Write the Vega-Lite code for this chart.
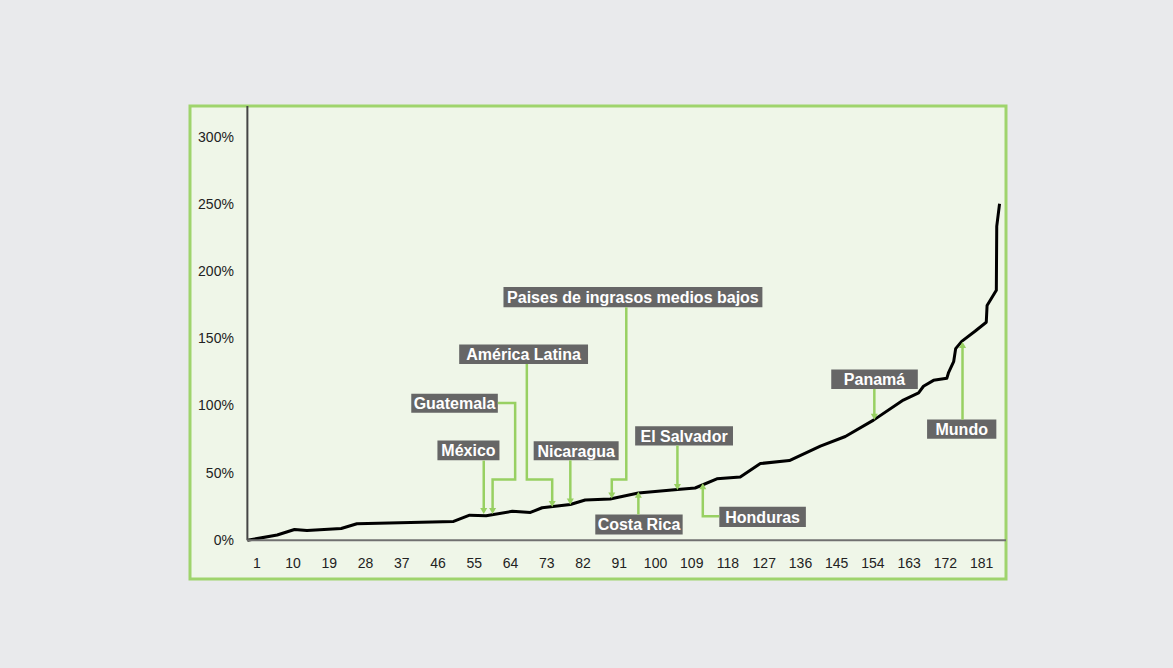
{
  "$schema": "https://vega.github.io/schema/vega-lite/v6.json",
  "width": 816,
  "height": 473,
  "autosize": {"type": "none"},
  "padding": {"left": 190, "top": 106, "right": 167, "bottom": 89},
  "background": "#e9eaec",
  "config": {
    "view": {"fill": "#eff6e8", "stroke": "#9fd46c", "strokeWidth": 3},
    "font": "Liberation Sans, Arial, sans-serif"
  },
  "datasets": {
    "curve": [
      {"rank": 1, "pct": 0}, {"rank": 8.4, "pct": 3.9}, {"rank": 12.7, "pct": 8.0}, {"rank": 15.8, "pct": 7.3},
      {"rank": 24.3, "pct": 8.8}, {"rank": 28.2, "pct": 12.3}, {"rank": 52.2, "pct": 14.0}, {"rank": 56.2, "pct": 18.7},
      {"rank": 60.3, "pct": 18.3}, {"rank": 66.8, "pct": 21.6}, {"rank": 71.3, "pct": 20.7}, {"rank": 74.2, "pct": 24.2},
      {"rank": 81.2, "pct": 26.6}, {"rank": 84.9, "pct": 30.0}, {"rank": 91.1, "pct": 30.7}, {"rank": 98.1, "pct": 35.2},
      {"rank": 107.8, "pct": 37.8}, {"rank": 112.2, "pct": 38.9}, {"rank": 117.6, "pct": 45.7}, {"rank": 123.4, "pct": 47.1},
      {"rank": 128.4, "pct": 57.1}, {"rank": 135.6, "pct": 59.3}, {"rank": 143.3, "pct": 70.1}, {"rank": 149.5, "pct": 77.2},
      {"rank": 156.5, "pct": 89.4}, {"rank": 163.9, "pct": 104.3}, {"rank": 167.7, "pct": 109.7}, {"rank": 168.9, "pct": 114.6},
      {"rank": 171.4, "pct": 119.0}, {"rank": 174.7, "pct": 120.5}, {"rank": 175.1, "pct": 124.5}, {"rank": 176.4, "pct": 132.9},
      {"rank": 176.9, "pct": 142.6}, {"rank": 178.4, "pct": 148.0}, {"rank": 181.7, "pct": 155.5}, {"rank": 184.5, "pct": 162.2},
      {"rank": 184.7, "pct": 174.6}, {"rank": 187.0, "pct": 186.1}, {"rank": 187.1, "pct": 233.5}, {"rank": 187.8, "pct": 250.4}
    ],
    "connectors": [
      {"id": "México", "seq": 1, "x": 59.7, "y": 59.3}, {"id": "México", "seq": 2, "x": 59.7, "y": 21.8},
      {"id": "Guatemala", "seq": 1, "x": 63.2, "y": 102.2}, {"id": "Guatemala", "seq": 2, "x": 67.5, "y": 102.2},
      {"id": "Guatemala", "seq": 3, "x": 67.5, "y": 45.2}, {"id": "Guatemala", "seq": 4, "x": 61.9, "y": 45.2},
      {"id": "Guatemala", "seq": 5, "x": 61.9, "y": 21.8},
      {"id": "América Latina", "seq": 1, "x": 70.4, "y": 131.2}, {"id": "América Latina", "seq": 2, "x": 70.4, "y": 45.2},
      {"id": "América Latina", "seq": 3, "x": 76.7, "y": 45.2}, {"id": "América Latina", "seq": 4, "x": 76.7, "y": 27.0},
      {"id": "Nicaragua", "seq": 1, "x": 81.2, "y": 59.5}, {"id": "Nicaragua", "seq": 2, "x": 81.2, "y": 28.8},
      {"id": "Paises", "seq": 1, "x": 95.1, "y": 173.3}, {"id": "Paises", "seq": 2, "x": 95.1, "y": 45.2},
      {"id": "Paises", "seq": 3, "x": 91.5, "y": 45.2}, {"id": "Paises", "seq": 4, "x": 91.5, "y": 33.3},
      {"id": "Costa Rica", "seq": 1, "x": 98.1, "y": 19.2}, {"id": "Costa Rica", "seq": 2, "x": 98.1, "y": 33.9},
      {"id": "El Salvador", "seq": 1, "x": 107.8, "y": 70.5}, {"id": "El Salvador", "seq": 2, "x": 107.8, "y": 39.6},
      {"id": "Honduras", "seq": 1, "x": 118.2, "y": 17.9}, {"id": "Honduras", "seq": 2, "x": 114.1, "y": 17.9},
      {"id": "Honduras", "seq": 3, "x": 114.1, "y": 40.2},
      {"id": "Panamá", "seq": 1, "x": 156.7, "y": 112.6}, {"id": "Panamá", "seq": 2, "x": 156.7, "y": 91.9},
      {"id": "Mundo", "seq": 1, "x": 178.6, "y": 89.8}, {"id": "Mundo", "seq": 2, "x": 178.6, "y": 145.4}
    ],
    "arrows": [
      {"x": 59.7, "y": 21.8, "dir": "down"}, {"x": 61.9, "y": 21.8, "dir": "down"},
      {"x": 76.7, "y": 27.0, "dir": "down"}, {"x": 81.2, "y": 28.8, "dir": "down"},
      {"x": 91.5, "y": 33.3, "dir": "down"}, {"x": 98.1, "y": 33.9, "dir": "up"},
      {"x": 107.8, "y": 39.6, "dir": "down"}, {"x": 114.1, "y": 40.2, "dir": "up"},
      {"x": 156.7, "y": 91.9, "dir": "down"}, {"x": 178.6, "y": 145.4, "dir": "up"}
    ],
    "labels": [
      {"label": "Guatemala", "x1": 41.7, "x2": 63.2, "y1": 94.8, "y2": 109.1},
      {"label": "México", "x1": 48.2, "x2": 63.6, "y1": 59.6, "y2": 74.2},
      {"label": "Nicaragua", "x1": 72.1, "x2": 93.2, "y1": 59.6, "y2": 73.7},
      {"label": "Costa Rica", "x1": 87.4, "x2": 109.1, "y1": 4.3, "y2": 19.2},
      {"label": "El Salvador", "x1": 97.3, "x2": 121.6, "y1": 70.5, "y2": 84.8},
      {"label": "Honduras", "x1": 118.2, "x2": 139.7, "y1": 9.9, "y2": 24.9},
      {"label": "Paises de ingrasos medios bajos", "x1": 64.6, "x2": 128.9, "y1": 173.3, "y2": 188.5},
      {"label": "América Latina", "x1": 53.6, "x2": 85.6, "y1": 131.2, "y2": 145.6},
      {"label": "Panamá", "x1": 146.0, "x2": 167.5, "y1": 112.6, "y2": 127.0},
      {"label": "Mundo", "x1": 169.8, "x2": 187.0, "y1": 75.5, "y2": 89.8}
    ],
    "axislines": [
      {"x": 1, "x2": 1, "y": 0, "y2": 323.1, "kind": "y"},
      {"x": 1, "x2": 189.4, "y": 0, "y2": 0, "kind": "x"}
    ]
  },
  "layer": [
    {
      "data": {"name": "curve"},
      "mark": {"type": "line", "color": "#000000", "strokeWidth": 3, "strokeJoin": "round"},
      "encoding": {
        "x": {
          "field": "rank", "type": "quantitative",
          "scale": {"domain": [-13.25, 189.4], "nice": false, "zero": false},
          "axis": {
            "values": [1, 10, 19, 28, 37, 46, 55, 64, 73, 82, 91, 100, 109, 118, 127, 136, 145, 154, 163, 172, 181],
            "offset": -38.7, "domain": false, "ticks": false, "grid": false, "title": null,
            "labelOffset": 9, "labelPadding": 16, "labelFontSize": 14, "labelColor": "#222222",
            "labelFont": "Liberation Sans, Arial, sans-serif"
          }
        },
        "y": {
          "field": "pct", "type": "quantitative",
          "scale": {"domain": [-28.8, 323.1], "nice": false, "zero": false},
          "axis": {
            "values": [0, 50, 100, 150, 200, 250, 300],
            "labelExpr": "datum.value + '%'",
            "offset": -57.4, "domain": false, "ticks": false, "grid": false, "title": null,
            "labelPadding": 14, "labelFontSize": 14, "labelColor": "#222222",
            "labelFont": "Liberation Sans, Arial, sans-serif"
          }
        }
      }
    },
    {
      "data": {"name": "axislines"},
      "mark": {"type": "rule", "strokeWidth": 2},
      "encoding": {
        "x": {"field": "x", "type": "quantitative"},
        "x2": {"field": "x2"},
        "y": {"field": "y", "type": "quantitative"},
        "y2": {"field": "y2"},
        "color": {"field": "kind", "type": "nominal", "scale": {"domain": ["x", "y"], "range": ["#707070", "#454545"]}, "legend": null}
      }
    },
    {
      "data": {"name": "labels"},
      "mark": {"type": "rect", "color": "#666666"},
      "encoding": {
        "x": {"field": "x1", "type": "quantitative"},
        "x2": {"field": "x2"},
        "y": {"field": "y1", "type": "quantitative"},
        "y2": {"field": "y2"}
      }
    },
    {
      "data": {"name": "connectors"},
      "mark": {"type": "line", "color": "#98d062", "strokeWidth": 2.5, "strokeCap": "butt", "strokeJoin": "miter"},
      "encoding": {
        "x": {"field": "x", "type": "quantitative"},
        "y": {"field": "y", "type": "quantitative"},
        "detail": {"field": "id"},
        "order": {"field": "seq", "type": "quantitative"}
      }
    },
    {
      "data": {"name": "arrows"},
      "mark": {"type": "point", "filled": true, "size": 50, "color": "#98d062", "opacity": 1},
      "encoding": {
        "x": {"field": "x", "type": "quantitative"},
        "y": {"field": "y", "type": "quantitative"},
        "shape": {"field": "dir", "type": "nominal", "scale": {"domain": ["down", "up"], "range": ["triangle-down", "triangle-up"]}, "legend": null}
      }
    },
    {
      "data": {"name": "labels"},
      "transform": [
        {"calculate": "(datum.x1 + datum.x2) / 2", "as": "cx"},
        {"calculate": "(datum.y1 + datum.y2) / 2", "as": "cy"}
      ],
      "mark": {"type": "text", "color": "#ffffff", "fontWeight": "bold", "fontSize": 16, "align": "center", "baseline": "middle", "dy": 1,
               "font": "Liberation Sans, Arial, sans-serif"},
      "encoding": {
        "x": {"field": "cx", "type": "quantitative"},
        "y": {"field": "cy", "type": "quantitative"},
        "text": {"field": "label"}
      }
    }
  ]
}
